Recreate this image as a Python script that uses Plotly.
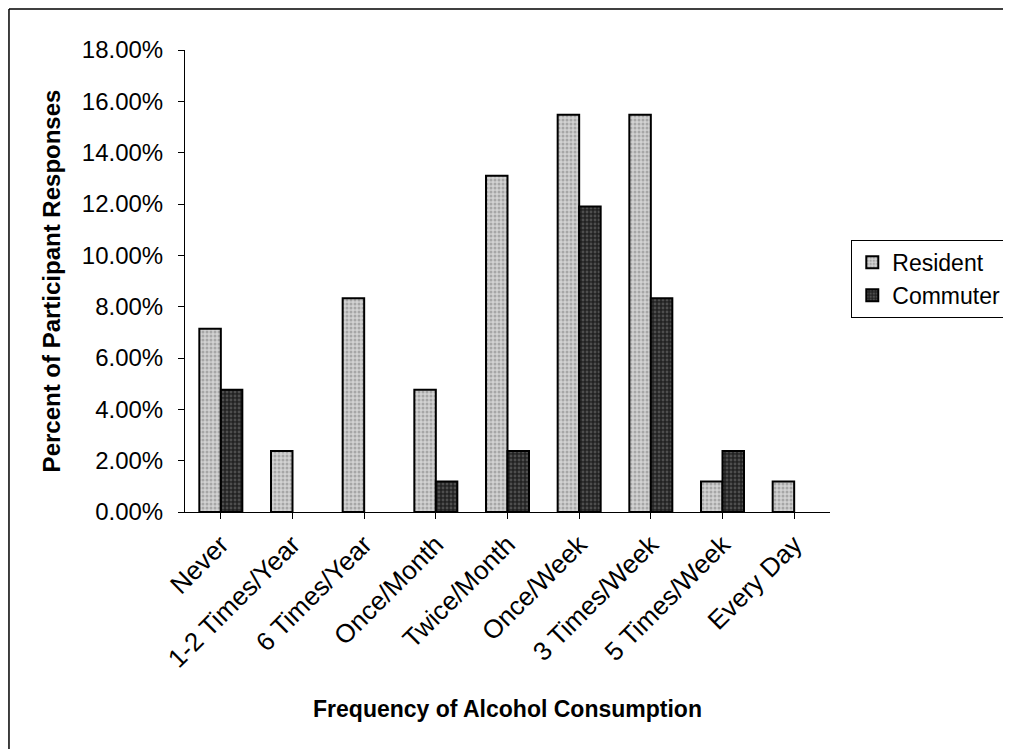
import plotly.graph_objects as go

categories = ["Never", "1-2 Times/Year", "6 Times/Year", "Once/Month", "Twice/Month",
              "Once/Week", "3 Times/Week", "5 Times/Week", "Every Day"]
resident = [0.0714, 0.0238, 0.0833, 0.0476, 0.1310, 0.1548, 0.1548, 0.0119, 0.0119]
commuter = [0.0476, 0.0, 0.0, 0.0119, 0.0238, 0.1190, 0.0833, 0.0238, 0.0]

FONT = "Liberation Sans, Arial, sans-serif"

def nz(vals):
    return [v if v > 0 else None for v in vals]

fig = go.Figure()
fig.add_trace(go.Bar(
    name="Resident", x=categories, y=nz(resident),
    marker=dict(color="#c4c4c4", line=dict(color="black", width=2),
                pattern=dict(shape=".", bgcolor="#d2d2d2", fgcolor="#7a7a7a", size=4, solidity=0.45)),
))
fig.add_trace(go.Bar(
    name="Commuter", x=categories, y=nz(commuter),
    marker=dict(color="#333333", line=dict(color="black", width=2),
                pattern=dict(shape=".", bgcolor="#222222", fgcolor="#7a7a7a", size=4, solidity=0.4)),
))

fig.update_layout(
    width=1011, height=749,
    margin=dict(l=177, r=189, t=42, b=245),
    paper_bgcolor="white", plot_bgcolor="white",
    barmode="group", bargap=0.4, bargroupgap=0,
    font=dict(family=FONT, size=24, color="black"),
    legend=dict(x=1.033, y=0.589, xanchor="left", yanchor="top",
                bordercolor="black", borderwidth=1, font=dict(size=23),
                tracegroupgap=0, itemwidth=30),
    showlegend=True,
)
fig.update_xaxes(
    showline=True, linecolor="black", linewidth=1,
    ticks="outside", ticklen=6, tickcolor="black", tickangle=-45,
    tickfont=dict(size=26), showgrid=False,
    title=dict(text="<b>Frequency of Alcohol Consumption</b>", font=dict(size=23), standoff=28),
)
fig.update_yaxes(
    range=[0, 0.18], dtick=0.02, tickformat=".2%",
    showline=True, linecolor="black", linewidth=1,
    ticks="outside", ticklen=6, tickcolor="black", ticklabelstandoff=10,
    tickfont=dict(size=24), showgrid=False, zeroline=False,
    title=dict(text="<b>Percent of Participant Responses</b>", font=dict(size=24), standoff=14),
)
# outer chart frame (top and left edges visible in the scan)
fig.add_shape(type="line", xref="paper", yref="paper",
              x0=-0.2729, x1=1.6, y0=1.0887, y1=1.0887,
              line=dict(color="black", width=1.5), layer="below")
fig.add_shape(type="line", xref="paper", yref="paper",
              x0=-0.2729, x1=-0.2729, y0=-0.7, y1=1.0887,
              line=dict(color="black", width=1.5), layer="below")

fig.write_html("out.html")
